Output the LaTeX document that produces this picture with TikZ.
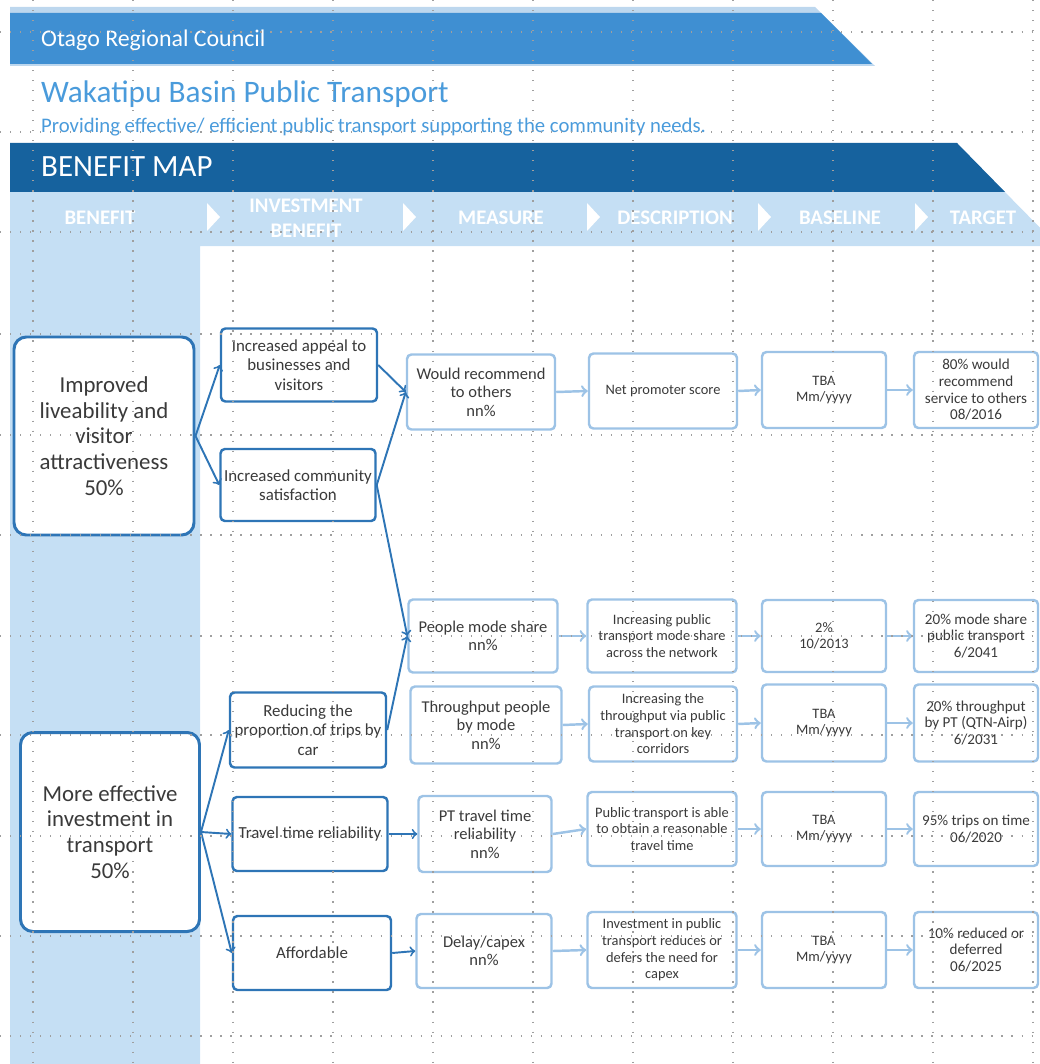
\documentclass[tikz,border=0pt]{standalone}
\usepackage{fontspec}
\setmainfont{Carlito}
\usepackage{tikz}

\begin{document}
\begin{tikzpicture}[x=0.02cm,y=-0.02cm,
    wh/.style 2 args={minimum width=#1*0.02cm,minimum height=#2*0.02cm},
    benefit/.style={draw=dkline,line width=1.7pt,rounded corners=7pt,fill=white,
      align=center,text=txt,inner sep=1pt,font=\fontsize{13}{14.6}\selectfont},
    invest/.style={draw=dkline,line width=1.4pt,rounded corners=2.5pt,fill=white,
      align=center,text=txt,inner sep=1pt,font=\fontsize{9.6}{11}\selectfont},
    measure/.style={draw=ltline,line width=1.4pt,rounded corners=2.5pt,fill=white,
      align=center,text=txt,inner sep=1pt,font=\fontsize{9.4}{10.5}\selectfont},
    detail/.style={measure,font=\fontsize{8.2}{9.5}\selectfont},
    aim/.style={measure,font=\fontsize{8.6}{9.5}\selectfont},
    header/.style={text=white,font=\fontsize{11.8}{14}\selectfont\bfseries,align=center},
    dkarrow/.style={->,draw=dkline,line width=1.1pt},
    ltarrow/.style={->,draw=ltline,line width=1.4pt},
    gridline/.style={gray!75,line width=0.7pt,dash pattern=on 0.7pt off 5pt}]
  \definecolor{dkline}{HTML}{2E75B6}
  \definecolor{ltline}{HTML}{9DC3E6}
  \definecolor{txt}{HTML}{3A3A3A}
  \definecolor{midband}{HTML}{3F8FD2}
  \definecolor{topstrip}{HTML}{BDD7EE}
  \definecolor{darkband}{HTML}{16629E}
  \definecolor{lightband}{HTML}{C5DFF4}
  \definecolor{titleblue}{HTML}{4A9BDB}
  \useasboundingbox (0,0) rectangle (1039,1064);

  % banners
  \fill[topstrip] (10,7) -- (815,7) -- (875,66) -- (10,66) -- cycle;
  \fill[midband] (10,13) -- (821,13) -- (872,64) -- (10,64) -- cycle;
  \node[anchor=west,text=white,font=\fontsize{13.6}{16}\selectfont] (org) at (35,40) {Otago Regional Council};
  \node[anchor=west,text=titleblue,font=\fontsize{17.8}{21}\selectfont] (title) at (35,94) {Wakatipu Basin Public Transport};
  \node[anchor=west,text=titleblue,font=\fontsize{11.8}{13}\selectfont] (subtitle) at (35,127)
    {Providing effective/ efficient public transport supporting the community needs.};
  \fill[lightband] (10,183) -- (996,183) -- (1058,246) -- (200,246) -- (200,1064) -- (10,1064) -- cycle;
  \fill[darkband] (10,143) -- (957,143) -- (1005,192) -- (10,192) -- cycle;
  \node[anchor=west,text=white,font=\fontsize{17.6}{20}\selectfont] (map) at (35,167) {BENEFIT MAP};

  % column heads
  \node[header] (hben) at (100,218) {BENEFIT};
  \node[header] (hinv) at (306,218) {INVESTMENT\\BENEFIT};
  \node[header] (hmea) at (501,218) {MEASURE};
  \node[header] (hdesc) at (675,218) {DESCRIPTION};
  \node[header] (hbase) at (840,218) {BASELINE};
  \node[header] (htarg) at (983,218) {TARGET};
  \foreach \x in {207,403,587,758,915}
    \fill[white] (\x,203) -- (\x+13,217) -- (\x,231) -- cycle;

  % benefits
  \node[benefit,wh={180}{198}] (ben1) at (104,436) {Improved\\liveability and\\visitor\\attractiveness\\50\%};
  \node[benefit,wh={179}{199}] (ben2) at (110,832) {More effective\\investment in\\transport\\50\%};

  % investment benefits
  \node[invest,wh={156}{73}] (inv1) at (299,365) {Increased appeal to\\businesses and\\visitors};
  \node[invest,wh={155}{72}] (inv2) at (298,485) {Increased community\\satisfaction};
  \node[invest,wh={156}{75}] (inv3) at (308,730) {Reducing the\\proportion of trips by\\car};
  \node[invest,wh={155}{74}] (inv4) at (310,834) {Travel time reliability};
  \node[invest,wh={158}{74}] (inv5) at (312,953) {Affordable};

  % measures
  \node[measure,wh={148}{75}] (mea1) at (481,392) {Would recommend\\to others\\nn\%};
  \node[measure,wh={149}{73}] (mea2) at (483,636) {People mode share\\nn\%};
  \node[measure,wh={151}{77}] (mea3) at (486,725) {Throughput people\\by mode\\nn\%};
  \node[measure,wh={133}{76}] (mea4) at (485,834) {PT travel time\\reliability\\nn\%};
  \node[measure,wh={135}{74}] (mea5) at (484,951) {Delay/capex\\nn\%};

  % descriptions
  \node[detail,wh={148}{75}] (desc1) at (663,391) {Net promoter score};
  \node[detail,wh={149}{73}] (desc2) at (662,636) {Increasing public\\transport mode share\\across the network};
  \node[detail,wh={148}{75}] (desc3) at (663,724) {Increasing the\\throughput via public\\transport on key\\corridors};
  \node[detail,wh={149}{74}] (desc4) at (662,829) {Public transport is able\\to obtain a reasonable\\travel time};
  \node[detail,wh={149}{76}] (desc5) at (662,950) {Investment in public\\transport reduces or\\defers the need for\\capex};

  % baselines and targets
  \node[detail,wh={124}{76}] (base1) at (824,390) {TBA\\Mm/yyyy};
  \node[detail,wh={124}{72}] (base2) at (824,636) {2\%\\10/2013};
  \node[detail,wh={124}{77}] (base3) at (824,723) {TBA\\Mm/yyyy};
  \node[detail,wh={124}{74}] (base4) at (824,829) {TBA\\Mm/yyyy};
  \node[detail,wh={124}{76}] (base5) at (824,950) {TBA\\Mm/yyyy};
  \node[aim,wh={124}{76}] (targ1) at (976,390) {80\% would\\recommend\\service to others\\08/2016};
  \node[aim,wh={124}{72}] (targ2) at (976,636) {20\% mode share\\public transport\\6/2041};
  \node[aim,wh={124}{77}] (targ3) at (976,723) {20\% throughput\\by PT (QTN-Airp)\\6/2031};
  \node[aim,wh={124}{74}] (targ4) at (976,829) {95\% trips on time\\06/2020};
  \node[aim,wh={124}{76}] (targ5) at (976,950) {10\% reduced or\\deferred\\06/2025};

  % links
  \foreach \s/\t in {ben1/inv1,ben1/inv2,ben2/inv3,ben2/inv4,ben2/inv5,
                     inv1/mea1,inv2/mea1,inv2/mea2,inv3/mea2,inv4/mea4,inv5/mea5}
    \draw[dkarrow] (\s.east) -- (\t.west);
  \foreach \i in {1,...,5}{
    \draw[ltarrow] (mea\i.east) -- (desc\i.west);
    \draw[ltarrow] (desc\i.east) -- (base\i.west);
    \draw[ltarrow] (base\i.east) -- (targ\i.west);}

  % page grid
  \foreach \x in {33,133,...,1033}
    \draw[gridline] (\x,0) -- (\x,1064);
  \foreach \y in {32,132,232,334,435,535,636,735,836,936,1036}
    \draw[gridline] (0,\y) -- (1039,\y);
\end{tikzpicture}
\end{document}
